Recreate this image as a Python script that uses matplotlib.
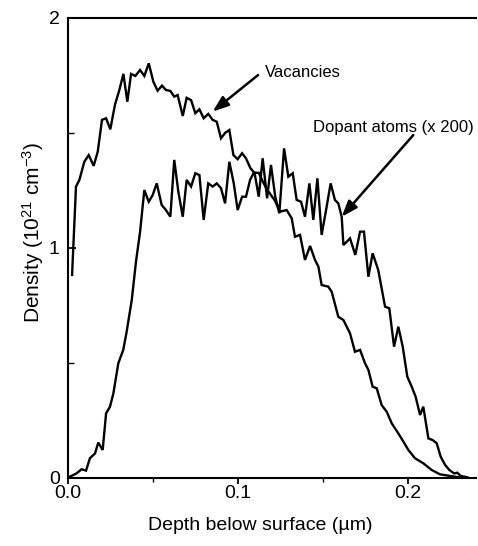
import matplotlib
matplotlib.use("Agg")
import matplotlib.pyplot as plt
from matplotlib.ticker import MultipleLocator

plt.rcParams['font.family'] = ['Liberation Sans', 'DejaVu Sans']
plt.rcParams['mathtext.default'] = 'regular'

vac_x = [0.0024, 0.0047, 0.0067, 0.0096, 0.0122, 0.0151, 0.0175, 0.0200, 0.0224, 0.0249,
         0.0276, 0.0302, 0.0326, 0.0349, 0.0371, 0.0396, 0.0424, 0.0449, 0.0475, 0.0502,
         0.0527, 0.0553, 0.0576, 0.0602, 0.0625, 0.0645, 0.0675, 0.0698, 0.0724, 0.0749,
         0.0773, 0.0798, 0.0825, 0.0851, 0.0875, 0.0900, 0.0925, 0.0949, 0.0973, 0.0998,
         0.1024, 0.1047, 0.1073, 0.1096, 0.1122, 0.1145, 0.1170, 0.1194, 0.1218, 0.1247,
         0.1286, 0.1316, 0.1335, 0.1365, 0.1394, 0.1424, 0.1453, 0.1473, 0.1492, 0.1531,
         0.1551, 0.1590, 0.1620, 0.1659, 0.1688, 0.1718, 0.1747, 0.1767, 0.1792, 0.1816,
         0.1845, 0.1875, 0.1904, 0.1943, 0.1973, 0.2002, 0.2041, 0.2090, 0.2139, 0.2188,
         0.2247, 0.2290, 0.2330]
vac_y = [0.883, 1.267, 1.296, 1.375, 1.404, 1.357, 1.419, 1.557, 1.564, 1.516,
         1.622, 1.687, 1.757, 1.636, 1.757, 1.748, 1.774, 1.748, 1.803, 1.723,
         1.684, 1.706, 1.687, 1.683, 1.658, 1.665, 1.574, 1.653, 1.643, 1.586,
         1.603, 1.564, 1.583, 1.557, 1.549, 1.477, 1.501, 1.513, 1.404, 1.386,
         1.412, 1.390, 1.347, 1.327, 1.327, 1.290, 1.255, 1.230, 1.205, 1.158,
         1.165, 1.129, 1.049, 1.057, 0.948, 1.009, 0.948, 0.919, 0.839, 0.832,
         0.810, 0.701, 0.687, 0.629, 0.549, 0.557, 0.499, 0.470, 0.397, 0.390,
         0.317, 0.288, 0.238, 0.194, 0.158, 0.122, 0.086, 0.064, 0.035, 0.016,
         0.009, 0.004, 0.000]

dop_x = [0.0012, 0.0050, 0.0080, 0.0106, 0.0129, 0.0159, 0.0178, 0.0204, 0.0224, 0.0247,
         0.0267, 0.0296, 0.0325, 0.0345, 0.0375, 0.0400, 0.0424, 0.0449, 0.0475, 0.0498,
         0.0522, 0.0551, 0.0576, 0.0602, 0.0625, 0.0649, 0.0675, 0.0698, 0.0724, 0.0749,
         0.0773, 0.0798, 0.0825, 0.0851, 0.0875, 0.0900, 0.0924, 0.0949, 0.0975, 0.0998,
         0.1024, 0.1047, 0.1071, 0.1096, 0.1122, 0.1145, 0.1171, 0.1194, 0.1219, 0.1243,
         0.1271, 0.1296, 0.1322, 0.1345, 0.1371, 0.1394, 0.1420, 0.1443, 0.1467, 0.1492,
         0.1518, 0.1545, 0.1570, 0.1590, 0.1610, 0.1620, 0.1630, 0.1659, 0.1690, 0.1718,
         0.1741, 0.1767, 0.1792, 0.1825, 0.1865, 0.1890, 0.1918, 0.1943, 0.1969, 0.1996,
         0.2022, 0.2045, 0.2071, 0.2090, 0.2120, 0.2145, 0.2169, 0.2192, 0.2218, 0.2243,
         0.2271, 0.2290, 0.2310, 0.2350]
dop_y = [0.006, 0.020, 0.038, 0.032, 0.086, 0.107, 0.154, 0.122, 0.281, 0.310,
         0.368, 0.499, 0.557, 0.636, 0.774, 0.941, 1.071, 1.252, 1.201, 1.230,
         1.281, 1.187, 1.165, 1.136, 1.383, 1.245, 1.136, 1.296, 1.267, 1.325,
         1.317, 1.122, 1.281, 1.267, 1.281, 1.260, 1.194, 1.375, 1.281, 1.165,
         1.223, 1.223, 1.296, 1.332, 1.223, 1.390, 1.216, 1.361, 1.223, 1.151,
         1.433, 1.310, 1.325, 1.209, 1.201, 1.136, 1.281, 1.122, 1.303, 1.057,
         1.165, 1.281, 1.209, 1.194, 1.136, 1.013, 1.020, 1.042, 0.970, 1.071,
         1.071, 0.875, 0.977, 0.904, 0.745, 0.738, 0.571, 0.658, 0.571, 0.440,
         0.397, 0.353, 0.274, 0.310, 0.172, 0.165, 0.151, 0.093, 0.057, 0.035,
         0.020, 0.023, 0.009, 0.003]

x_ticks = [0.0, 0.1, 0.2]
x_ticklabels = ["0.0", "0.1", "0.2"]
y_ticks = [0, 1, 2]
y_ticklabels = ["0", "1", "2"]

fig = plt.figure(figsize=(4.78, 5.46), dpi=100)
ax = fig.add_axes([68/478, 68/546, 408/478, 460/546])

ax.plot(vac_x, vac_y, color='black', lw=1.7, solid_joinstyle='miter')
ax.plot(dop_x, dop_y, color='black', lw=1.7, solid_joinstyle='miter')

ax.set_xlim(0, 0.24)
ax.set_ylim(0, 2)
ax.set_xticks(x_ticks)
ax.set_xticklabels(x_ticklabels)
ax.set_yticks(y_ticks)
ax.set_yticklabels(y_ticklabels)
ax.xaxis.set_minor_locator(MultipleLocator(0.05))
ax.yaxis.set_minor_locator(MultipleLocator(0.5))

ax.tick_params(axis='x', which='major', direction='out', length=4, width=1.3, pad=1, labelsize=14)
ax.tick_params(axis='x', which='minor', direction='out', length=3, width=1.0)
ax.tick_params(axis='y', which='major', direction='in', length=6, width=1.3, pad=6, labelsize=14)
ax.tick_params(axis='y', which='minor', direction='in', length=4, width=1.0)

for s in ['left', 'bottom', 'top']:
    ax.spines[s].set_linewidth(1.5)
ax.spines['right'].set_visible(False)

ax.set_xlabel("Depth below surface (\u00b5m)", fontsize=14)
ax.xaxis.set_label_coords(0.47, -0.085)
ax.set_ylabel("Density (10$^{21}$ cm$^{-3}$)", fontsize=15)
ax.yaxis.set_label_coords(-0.055, 0.535)

arrow = dict(arrowstyle='-|>,head_length=0.6,head_width=0.22', color='black', lw=1.8,
             mutation_scale=16, shrinkA=0, shrinkB=0)
ax.annotate("", xy=(0.0851, 1.593), xytext=(0.1118, 1.752), arrowprops=arrow)
ax.text(0.1159, 1.761, "Vacancies", fontsize=12, ha='left', va='center')
ax.annotate("", xy=(0.1610, 1.136), xytext=(0.2031, 1.491), arrowprops=arrow)
ax.text(0.1441, 1.525, "Dopant atoms (x 200)", fontsize=12, ha='left', va='center')

fig.savefig("out.png", dpi=100)
